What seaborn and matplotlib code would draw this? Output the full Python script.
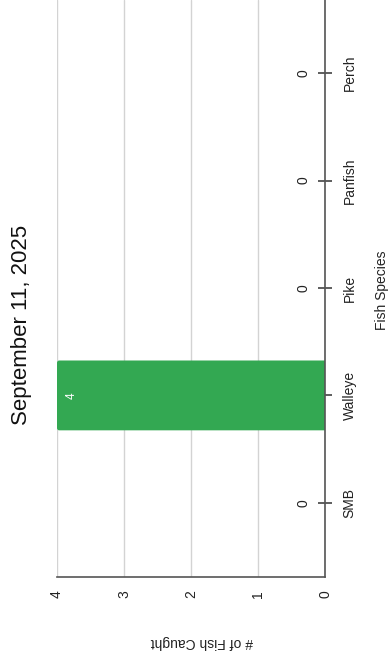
import numpy as np
import pandas as pd
import matplotlib
matplotlib.use("Agg")
import matplotlib.pyplot as plt
from matplotlib.patches import FancyBboxPatch
import seaborn as sns

# data
species = ["SMB", "Walleye", "Pike", "Panfish", "Perch"]
counts = [0, 4, 0, 0, 0]
value_ticks = [0, 1, 2, 3, 4]
title = "September 11, 2025"

df = pd.DataFrame({"species": species, "count": counts})

sns.set_style("white")
plt.rcParams["font.family"] = ["Liberation Sans", "DejaVu Sans"]

fig = plt.figure(figsize=(3.91, 6.62), dpi=100)
W, H = 391, 662
# axes box in pixels: x 57..325, y 0..577 (from top)
ax = fig.add_axes([57 / W, 1 - 577 / H, (325 - 57) / W, 577 / H])

green = "#33a852"
sns.barplot(data=df, x="count", y="species", order=species, orient="h",
            color=green, width=0.65, ax=ax, saturation=1)

# swap plain bars for slightly rounded ones
for p in list(ax.patches):
    x0, y0 = p.get_x(), p.get_y()
    w, h = p.get_width(), p.get_height()
    p.remove()
    if w <= 0:
        continue
    ax.add_patch(FancyBboxPatch((x0 - 0.05, y0), w + 0.05, h,
                                boxstyle="round,pad=0,rounding_size=0.035",
                                mutation_aspect=0.62, fc=green, ec="none",
                                zorder=2))

ax.set_xlim(4, 0)
ax.set_ylim(-0.69, 4.68)

ax.set_xticks(value_ticks)
ax.set_xticklabels([str(v) for v in value_ticks], rotation=90)
ax.grid(axis="x", color="#d3d3d3", linewidth=1)
ax.set_axisbelow(True)

ax.yaxis.tick_right()
ax.set_yticks(range(len(species)))
ax.set_yticklabels(species, rotation=90, va="center")

for s in ["left", "top"]:
    ax.spines[s].set_visible(False)
for s in ["bottom", "right"]:
    ax.spines[s].set_color("#555555")
    ax.spines[s].set_linewidth(1.2)

ax.tick_params(axis="both", direction="inout", length=9.5, width=1.1,
               color="#333333", labelsize=10, labelcolor="#222222")
ax.tick_params(axis="x", pad=5)
ax.tick_params(axis="y", pad=8)
ax.set_xlabel("")
ax.set_ylabel("")

# value labels
for i, c in enumerate(counts):
    if c == 0:
        ax.annotate(str(c), (0, i), xytext=(-21, 0), textcoords="offset pixels",
                    rotation=90, ha="center", va="center", fontsize=10,
                    color="#222222")
    else:
        ax.annotate(str(c), (c, i), xytext=(15, 0), textcoords="offset pixels",
                    rotation=90, ha="center", va="center", fontsize=8.5,
                    color="white")

fig.text(22 / W, 1 - 325 / H, title, rotation=90, ha="center", va="center",
         fontsize=16, color="#111111")
fig.text(382 / W, 1 - 290 / H, "Fish Species", rotation=90, ha="center",
         va="center", fontsize=10, color="#222222")
fig.text(202 / W, 1 - 642 / H, "# of Fish Caught", rotation=180, ha="center",
         va="center", fontsize=10, color="#222222")

fig.savefig("out.png", dpi=100)
